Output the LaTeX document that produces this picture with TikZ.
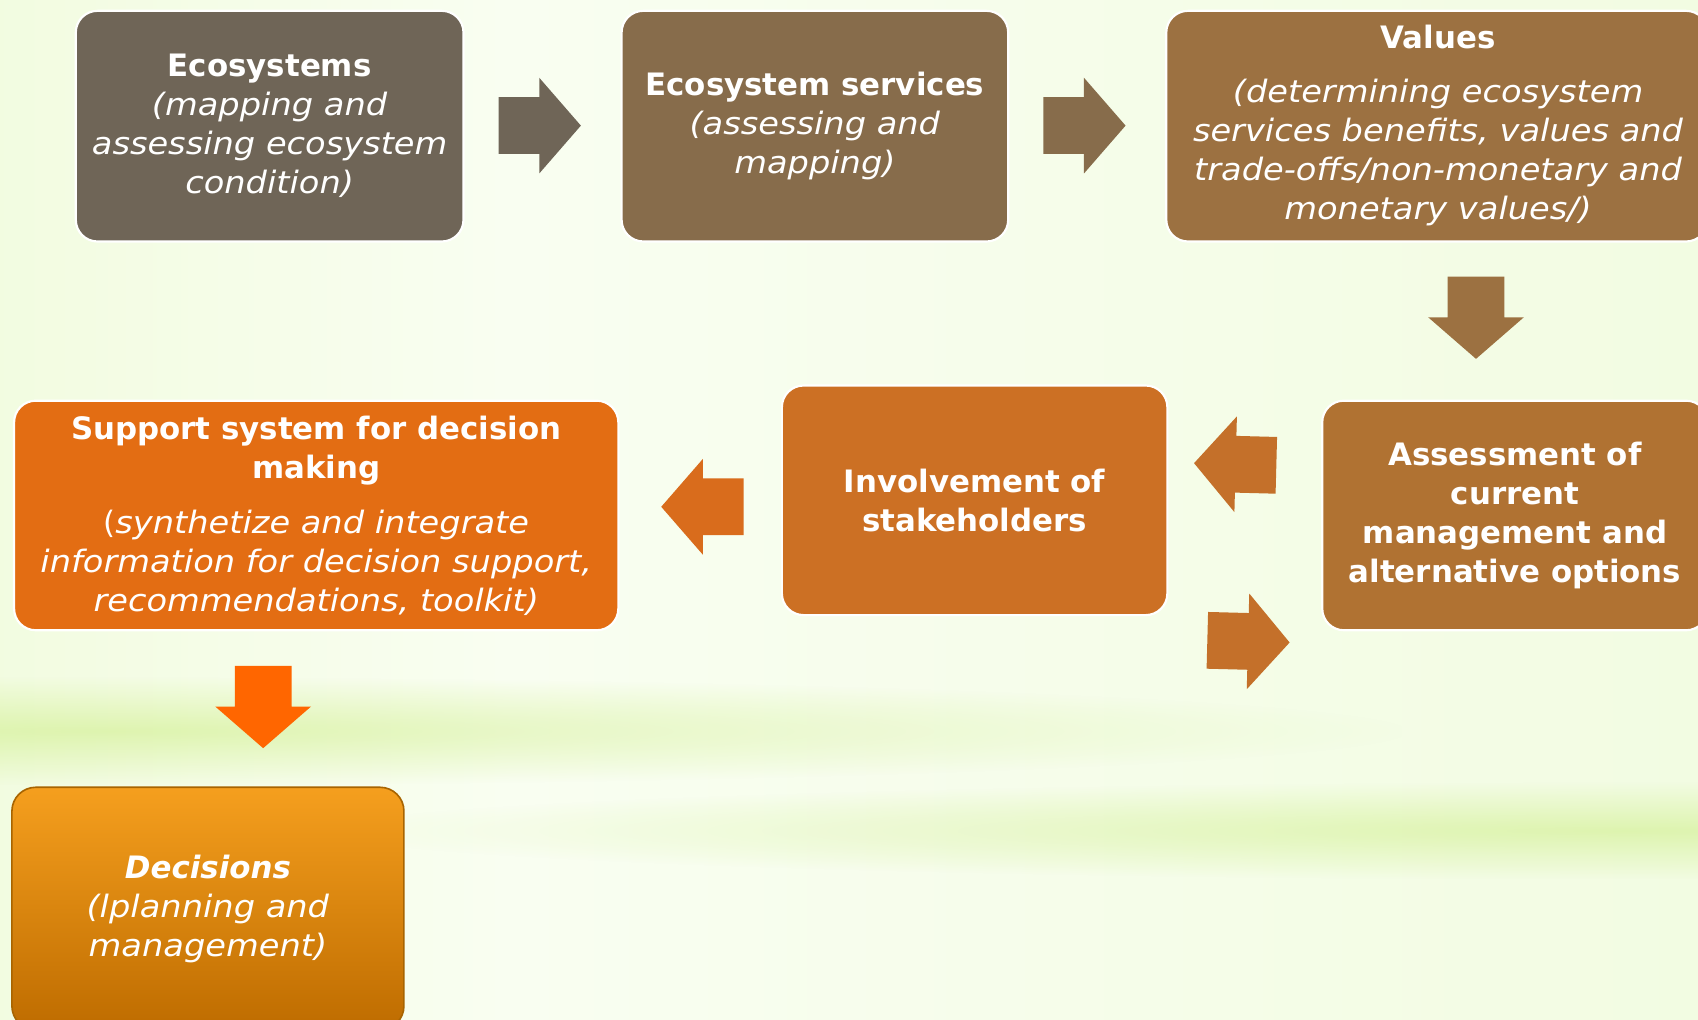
\documentclass[tikz,border=0pt]{standalone}
\usepackage{fontspec}
\setmainfont{DejaVu Sans}[ItalicFeatures={FakeStretch=1.09}]
\usetikzlibrary{shapes.arrows,fadings}
\definecolor{bgL}{HTML}{CFEF96}
\definecolor{bgA}{HTML}{ECFAD2}
\definecolor{bgC}{HTML}{F9FEF1}
\definecolor{bgB}{HTML}{F2FCE2}
\definecolor{bgR}{HTML}{D9F4A6}
\definecolor{band}{HTML}{CDEE85}
\definecolor{cA}{HTML}{6F6557}
\definecolor{cB}{HTML}{876C4B}
\definecolor{cC}{HTML}{9C7141}
\definecolor{cD}{HTML}{B07232}
\definecolor{cDa}{HTML}{C4702A}
\definecolor{cE}{HTML}{CC7024}
\definecolor{cEa}{HTML}{D96C1C}
\definecolor{cF}{HTML}{E36D13}
\definecolor{cFa}{HTML}{FF6600}
\definecolor{cGt}{HTML}{F59F1E}
\definecolor{cGb}{HTML}{BE6C00}
\definecolor{cGd}{HTML}{A86400}
\pgfdeclarehorizontalshading{bgshade}{100bp}{color(0bp)=(bgL); color(12bp)=(bgA); color(40bp)=(bgC); color(75bp)=(bgB); color(100bp)=(bgR)}
\tikzfading[name=glow, inner color=transparent!45, outer color=transparent!100]
\tikzset{
  box/.style={draw=white, line width=2pt, rounded corners=20pt, text=white,
    align=center, inner sep=0pt, font={\fontsize{28.5}{36}\selectfont}},
  blockarrow/.style={single arrow, draw=none, inner xsep=0pt, inner ysep=26pt,
    minimum height=76pt,
    single arrow head extend=18pt, single arrow tip angle=98},
}
\begin{document}
\begin{tikzpicture}[x=1pt,y=-1pt]
\useasboundingbox (0,0) rectangle (1568,941);
\clip (0,0) rectangle (1568,941);
% background
\shade[shading=bgshade] (0,0) rectangle (1568,941);
\fill[band, path fading=glow] (-1100,625) rectangle (1300,725);
\fill[band, path fading=glow] (300,722) rectangle (2700,812);

% boxes
\node[box, fill=cA, minimum width=358pt, minimum height=213pt] (eco) at (249,116.5)
  {\textbf{Ecosystems}\\\textit{(mapping and}\\\textit{assessing ecosystem}\\\textit{condition)}};
\node[box, fill=cB, minimum width=357pt, minimum height=213pt] (serv) at (752.5,116.5)
  {\textbf{Ecosystem services}\\\textit{(assessing and}\\\textit{mapping)}};
\node[box, fill=cC, minimum width=500pt, minimum height=213pt] (val) at (1327,116.5)
  {};
\node[text=white, align=center, font={\fontsize{28.5}{36}\selectfont}] (valt) at (1328,116)
  {\textbf{Values}\\[14pt]\textit{(determining ecosystem}\\\textit{services benefits, values and}\\\textit{trade-offs/non-monetary and}\\\textit{monetary values/)}};
\node[box, fill=cD, minimum width=356pt, minimum height=212pt] (assess) at (1399,476)
  {\textbf{Assessment of}\\\textbf{current}\\\textbf{management and}\\\textbf{alternative options}};
\node[box, fill=cE, minimum width=356pt, minimum height=212pt] (invol) at (900,462)
  {\textbf{Involvement of}\\\textbf{stakeholders}};
\node[box, fill=cF, minimum width=558pt, minimum height=212pt] (supp) at (292,476)
  {\textbf{Support system for decision}\\\textbf{making}\\[15pt](\textit{synthetize and integrate}\\\textit{information for decision support,}\\\textit{recommendations, toolkit)}};
\node[draw=cGd, line width=1.5pt, rounded corners=22pt, top color=cGt, bottom color=cGb,
  minimum width=362pt, minimum height=224pt, inner sep=0pt, text=white, align=center,
  font={\fontsize{28.5}{36}\selectfont}] (dec) at (192,839)
  {\textbf{\textit{Decisions}}\\\textit{(lplanning and}\\\textit{management)}};

% block arrows
\node[blockarrow, fill=cA] (a1) at (487,116) {};
\node[blockarrow, fill=cB] (a2) at (990,116) {};
\node[blockarrow, fill=cC, rotate=-90] (a3) at (1363,282) {};
\node[blockarrow, fill=cDa, shape border rotate=180, rotate=-1.5] (a4) at (1152,429) {};
\node[blockarrow, fill=cDa, rotate=-1.5] (a5) at (1141.5,592) {};
\node[blockarrow, fill=cEa, shape border rotate=180] (a6) at (660,468) {};
\node[blockarrow, fill=cFa, rotate=-90] (a7) at (243,641.5) {};
\end{tikzpicture}
\end{document}
